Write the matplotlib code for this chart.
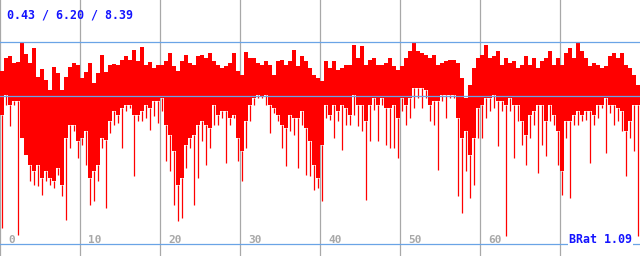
import numpy as np
import matplotlib.pyplot as plt

# top of each column (4 px wide slices of the trace)
hi = [7.22, 7.75, 7.84, 7.55, 7.59, 8.37, 7.92, 7.55, 8.17, 6.97,
      7.30, 6.85, 6.44, 7.38, 7.14, 6.44, 6.97, 7.38, 7.55, 7.47,
      6.93, 7.18, 7.55, 6.73, 7.14, 7.88, 7.18, 7.47, 7.50, 7.47,
      7.67, 7.84, 7.67, 8.08, 7.63, 8.21, 7.47, 7.59, 7.34, 7.47,
      7.47, 7.63, 7.96, 7.42, 7.22, 7.63, 7.88, 7.55, 7.47, 7.84,
      7.88, 7.75, 7.96, 7.63, 7.47, 7.34, 7.42, 7.55, 7.96, 7.22,
      7.05, 8.00, 7.75, 7.75, 7.55, 7.47, 7.63, 7.47, 7.05, 7.63,
      7.67, 7.47, 7.63, 8.08, 7.42, 7.84, 7.63, 7.34, 7.05, 6.93,
      6.81, 7.63, 7.34, 7.63, 7.26, 7.34, 7.47, 7.47, 8.29, 7.75,
      8.25, 7.47, 7.67, 7.75, 7.47, 7.47, 7.55, 7.75, 7.42, 7.26,
      7.42, 7.75, 8.04, 8.37, 8.04, 7.96, 7.88, 7.75, 7.88, 7.47,
      7.55, 7.63, 7.67, 7.67, 7.55, 6.93, 6.11, 6.64, 7.34, 7.75,
      7.88, 8.29, 7.75, 7.84, 8.04, 7.47, 7.75, 7.55, 7.63, 7.34,
      7.47, 7.84, 7.47, 7.75, 7.34, 7.63, 7.75, 8.04, 7.47, 7.75,
      7.47, 7.96, 8.17, 7.75, 8.39, 8.04, 7.75, 7.42, 7.55, 7.47,
      7.34, 7.42, 7.84, 7.96, 7.75, 7.96, 7.47, 7.34, 7.05, 6.64]

# bottom of the dense body of each column
lo = [5.41, 6.23, 5.82, 5.98, 5.98, 4.46, 3.76, 3.35, 3.11, 3.35,
      2.82, 3.11, 2.82, 2.69, 3.23, 2.53, 4.46, 5.00, 5.00, 4.34,
      4.46, 4.75, 2.82, 3.11, 3.35, 4.46, 4.38, 5.16, 5.57, 5.41,
      5.70, 5.82, 5.82, 5.41, 5.41, 5.57, 5.82, 5.70, 5.98, 5.98,
      6.11, 5.00, 4.59, 3.93, 2.53, 2.82, 4.17, 4.46, 4.59, 5.00,
      5.16, 5.00, 4.87, 5.82, 5.41, 5.57, 5.57, 5.29, 5.41, 4.46,
      3.93, 5.16, 5.82, 6.11, 6.23, 6.19, 6.23, 5.82, 5.70, 5.41,
      5.00, 4.87, 5.41, 5.29, 5.29, 5.57, 4.87, 4.34, 3.35, 2.82,
      4.17, 5.82, 5.41, 5.82, 5.57, 5.82, 5.70, 5.41, 6.23, 5.82,
      5.82, 5.16, 5.82, 6.11, 5.82, 6.11, 5.70, 5.70, 5.82, 5.29,
      6.11, 5.82, 6.11, 6.52, 6.52, 6.52, 6.44, 5.82, 5.98, 5.98,
      6.23, 6.23, 6.23, 6.23, 5.29, 4.46, 4.75, 3.76, 4.46, 5.70,
      5.82, 6.11, 6.11, 6.23, 5.98, 5.98, 5.82, 6.11, 5.82, 5.82,
      5.16, 4.59, 5.41, 5.57, 5.82, 5.82, 5.16, 5.82, 5.41, 4.75,
      3.11, 5.16, 5.16, 5.41, 5.57, 5.41, 5.57, 5.57, 5.41, 5.82,
      5.82, 6.11, 5.82, 5.82, 5.70, 5.57, 4.75, 5.16, 5.82, 5.82]

# deepest single dip inside each column
deep = [0.76, 5.82, 4.96, 5.82, 0.47, 4.46, 3.76, 2.69, 2.53, 2.49,
        2.12, 2.69, 2.53, 2.41, 2.94, 2.08, 1.09, 4.05, 4.75, 3.64,
        4.17, 3.35, 1.71, 1.87, 2.69, 4.05, 1.58, 4.67, 5.00, 5.08,
        4.05, 5.57, 5.70, 2.90, 5.16, 5.16, 5.29, 4.79, 5.37, 5.08,
        5.57, 3.52, 3.11, 1.71, 1.05, 1.17, 3.23, 4.05, 1.71, 2.82,
        4.34, 3.35, 4.05, 5.00, 5.00, 5.29, 3.43, 5.00, 5.29, 3.52,
        2.69, 4.05, 5.16, 5.82, 6.11, 6.11, 5.82, 4.67, 5.49, 5.16,
        4.05, 3.31, 4.75, 4.59, 3.23, 5.00, 2.94, 2.90, 2.32, 2.41,
        1.87, 5.29, 5.20, 4.46, 5.16, 3.97, 5.00, 5.00, 5.41, 4.96,
        4.75, 1.91, 4.34, 5.61, 4.34, 5.82, 4.17, 4.05, 4.05, 3.64,
        5.57, 5.00, 5.29, 5.70, 6.11, 5.70, 6.11, 5.16, 5.00, 3.15,
        5.98, 5.29, 6.11, 6.11, 2.08, 1.38, 3.11, 1.99, 2.53, 4.46,
        4.46, 5.29, 5.57, 5.70, 4.13, 5.57, 0.43, 5.57, 3.64, 5.16,
        4.17, 3.35, 4.46, 5.00, 3.02, 4.17, 3.72, 5.16, 5.00, 3.35,
        2.12, 4.46, 1.99, 5.00, 5.00, 5.16, 5.20, 3.43, 5.00, 5.29,
        5.70, 3.85, 5.49, 5.00, 5.16, 4.75, 2.90, 4.46, 3.93, 0.45]

stats_text = "0.43 / 6.20 / 8.39"
ratio_text = "BRat 1.09"
grid_x = [0, 10, 20, 30, 40, 50, 60, 70]
tick_labels = [0, 10, 20, 30, 40, 50, 60]   # the "70" is hidden under the BRat box
ref_lines = [8.42, 6.20, 0.12]

hi = np.array(hi)
lo = np.array(lo)
deep = np.array(deep)
x = np.arange(len(hi)) * 0.5 + 0.25

fig = plt.figure(figsize=(6.4, 2.56), dpi=100)
ax = fig.add_axes([0, 0, 1, 1])
ax.set_xlim(0, 80)
ax.set_ylim(-0.39, 10.14)
ax.axis("off")

for t in grid_x:
    ax.axvline(t, color="#a8a8a8", lw=0.9, zorder=1)

ax.bar(x, hi - lo, bottom=lo, width=0.5, color="#ff0000",
       linewidth=0, antialiased=False, zorder=2)
ax.vlines(x, deep, lo, color="#ff0000", lw=0.9, zorder=2)

for v in ref_lines:
    ax.axhline(v, color="#6aa4e6", lw=0.9, zorder=3)

mono = dict(family="DejaVu Sans Mono", weight="bold")
for t in tick_labels:
    ax.text(t + 1.0, 0.05, str(t), transform=ax.get_xaxis_transform(),
            color="#a8a8a8", fontsize=8, va="baseline", ha="left",
            zorder=4, **mono)

fig.text(7 / 640, 1 - 19 / 256, stats_text, color="#1414ff",
         fontsize=8.4, va="baseline", ha="left", **mono)
fig.text(632 / 640, 1 - 243 / 256, ratio_text, color="#1414ff",
         fontsize=8.4, va="baseline", ha="right", zorder=5,
         bbox=dict(facecolor="white", edgecolor="none", pad=0.5), **mono)

fig.savefig("out.png", dpi=100)
